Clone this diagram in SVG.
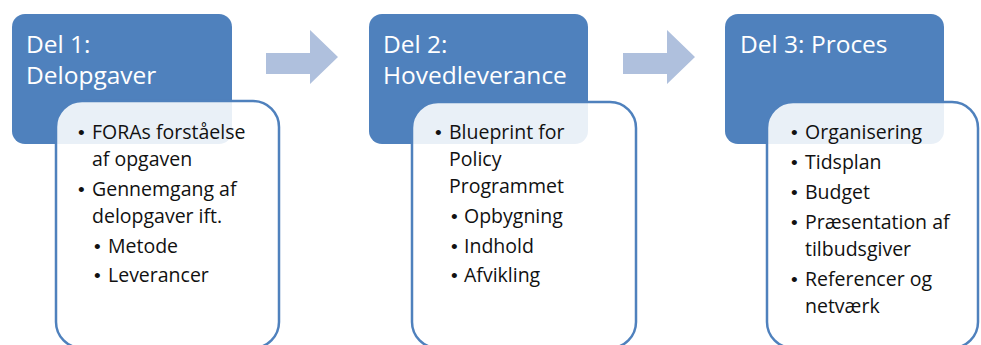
<svg xmlns="http://www.w3.org/2000/svg" width="981" height="345" viewBox="0 0 981 345">
<style>
.hdr{fill:#4F81BD;}
.card{fill:#ffffff;fill-opacity:0.88;stroke:#4F81BD;stroke-width:2.5;}
.arr{fill:#AFC0DD;}
.ht{font-family:"Open Sans","Liberation Sans",sans-serif;font-size:24.5px;fill:#ffffff;}
.bt{font-family:"Open Sans","Liberation Sans",sans-serif;font-size:19.5px;fill:#111111;}
.bu{font-family:"Liberation Sans",sans-serif;font-size:19px;fill:#111111;}
</style>
<rect width="981" height="345" fill="#ffffff"/>
<g id="connectors">
<polygon class="arr" points="266,53 310,53 310,30 338,57 310,84 310,74 266,74"/>
<polygon class="arr" points="623,53 667,53 667,30 695,57 667,84 667,74 623,74"/>
</g>
<g id="del1">
<rect class="hdr" x="12" y="14" width="220" height="130" rx="13"/>
<text class="ht" x="26" y="53">Del 1:</text>
<text class="ht" x="26" y="84">Delopgaver</text>
<rect class="card" x="56" y="101" width="223" height="247" rx="26"/>
<text class="bu"><tspan x="78" y="139">•</tspan><tspan x="78" y="196">•</tspan><tspan x="94" y="253">•</tspan><tspan x="94" y="282">•</tspan></text>
<text class="bt"><tspan x="92" y="139">FORAs forståelse</tspan><tspan x="92" y="166">af opgaven</tspan><tspan x="92" y="196">Gennemgang af</tspan><tspan x="92" y="223">delopgaver ift.</tspan><tspan x="108" y="253">Metode</tspan><tspan x="108" y="282">Leverancer</tspan></text>
</g>
<g id="del2">
<rect class="hdr" x="369" y="14" width="219" height="130" rx="13"/>
<text class="ht" x="383" y="53">Del 2:</text>
<text class="ht" x="383" y="84">Hovedleverance</text>
<rect class="card" x="412" y="102" width="224" height="246" rx="26"/>
<text class="bu"><tspan x="435" y="139">•</tspan><tspan x="451" y="223">•</tspan><tspan x="451" y="253">•</tspan><tspan x="451" y="282">•</tspan></text>
<text class="bt"><tspan x="449" y="139">Blueprint for</tspan><tspan x="449" y="166">Policy</tspan><tspan x="449" y="193">Programmet</tspan><tspan x="464" y="223">Opbygning</tspan><tspan x="464" y="253">Indhold</tspan><tspan x="464" y="282">Afvikling</tspan></text>
</g>
<g id="del3">
<rect class="hdr" x="725" y="14" width="219" height="130" rx="13"/>
<text class="ht" x="740" y="53">Del 3: Proces</text>
<rect class="card" x="767" y="102" width="211" height="246" rx="26"/>
<text class="bu"><tspan x="791" y="139">•</tspan><tspan x="791" y="169">•</tspan><tspan x="791" y="199">•</tspan><tspan x="791" y="229">•</tspan><tspan x="791" y="286">•</tspan></text>
<text class="bt"><tspan x="805" y="139">Organisering</tspan><tspan x="805" y="169">Tidsplan</tspan><tspan x="805" y="199">Budget</tspan><tspan x="805" y="229">Præsentation af</tspan><tspan x="805" y="256">tilbudsgiver</tspan><tspan x="805" y="286">Referencer og</tspan><tspan x="805" y="313">netværk</tspan></text>
</g>
</svg>
